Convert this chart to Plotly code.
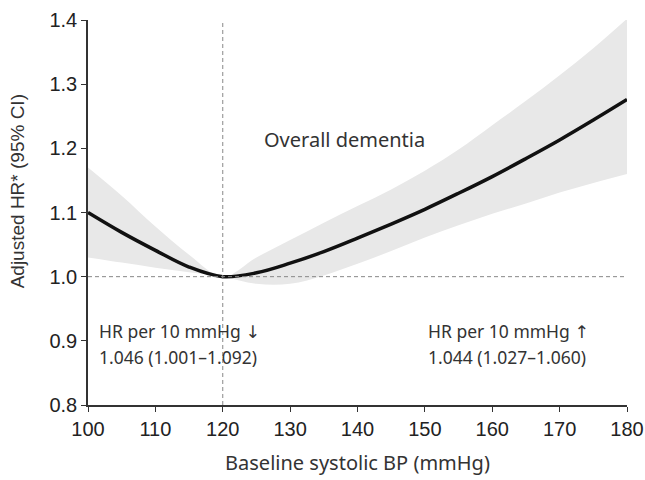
import plotly.graph_objects as go

# Data
bp = [100, 105, 110, 115, 120, 125, 130, 135, 140, 145, 150, 155, 160, 165, 170, 175, 180]
hr = [1.100, 1.069, 1.041, 1.015, 1.000, 1.006, 1.021, 1.039, 1.060, 1.082, 1.105, 1.130, 1.156, 1.184, 1.213, 1.244, 1.276]
ci_upper = [1.170, 1.126, 1.078, 1.034, 1.000, 1.030, 1.057, 1.084, 1.110, 1.136, 1.165, 1.198, 1.236, 1.274, 1.314, 1.356, 1.402]
ci_lower = [1.030, 1.022, 1.014, 1.007, 1.000, 0.989, 0.989, 1.002, 1.020, 1.040, 1.061, 1.080, 1.098, 1.114, 1.131, 1.146, 1.160]

x_ticks = [100, 110, 120, 130, 140, 150, 160, 170, 180]
y_ticks = [0.8, 0.9, 1.0, 1.1, 1.2, 1.3, 1.4]
y_tick_labels = ["0.8", "0.9", "1.0", "1.1", "1.2", "1.3", "1.4"]

REF_BP = 120
REF_HR = 1.0

TEXT_FONT = "Noto Sans"
TICK_FONT = "Liberation Sans"
ARROW_SPAN = '<span style="font-family:DejaVu Sans">{}</span>'

fig = go.Figure()

fig.add_trace(go.Scatter(x=bp, y=ci_upper, mode="lines", line=dict(width=0, shape="spline"),
                         hoverinfo="skip", showlegend=False))
fig.add_trace(go.Scatter(x=bp, y=ci_lower, mode="lines", line=dict(width=0, shape="spline"),
                         fill="tonexty", fillcolor="#e8e8e8", hoverinfo="skip", showlegend=False))
fig.add_trace(go.Scatter(x=bp, y=hr, mode="lines", line=dict(color="#111111", width=3.5, shape="spline"),
                         showlegend=False))

fig.add_shape(type="line", xref="x", yref="y", x0=bp[0], x1=bp[-1], y0=REF_HR, y1=REF_HR,
              line=dict(color="#888888", width=1, dash="4px,3px"))
fig.add_shape(type="line", xref="x", yref="y", x0=REF_BP, x1=REF_BP, y0=y_ticks[0], y1=y_ticks[-1],
              line=dict(color="#888888", width=1, dash="4px,3px"))

ann_font = dict(family=TEXT_FONT, size=17.5, color="#333333")
fig.add_annotation(x=125.8, y=1.214, text="Overall dementia", showarrow=False, xanchor="left",
                   yanchor="middle", font=dict(family=TEXT_FONT, size=20, color="#333333"))
fig.add_annotation(x=101.3, y=0.916, text="HR per 10 mmHg " + ARROW_SPAN.format("↓"), showarrow=False,
                   xanchor="left", yanchor="middle", font=ann_font)
fig.add_annotation(x=101.3, y=0.875, text="1.046 (1.001–1.092)", showarrow=False, xanchor="left",
                   yanchor="middle", font=ann_font)
fig.add_annotation(x=150.1, y=0.916, text="HR per 10 mmHg " + ARROW_SPAN.format("↑"), showarrow=False,
                   xanchor="left", yanchor="middle", font=ann_font)
fig.add_annotation(x=150.1, y=0.875, text="1.044 (1.027–1.060)", showarrow=False, xanchor="left",
                   yanchor="middle", font=ann_font)

# y-axis title (placed slightly above the plot centre, as in the reference)
fig.add_annotation(xref="paper", yref="paper", x=-0.1317, y=0.555, text="Adjusted HR* (95% CI)",
                   textangle=-90, showarrow=False, xanchor="center", yanchor="middle",
                   font=dict(family=TICK_FONT, size=19, color="#333333"))

fig.update_layout(
    width=645, height=480,
    margin=dict(l=88, r=18, t=20, b=75),
    paper_bgcolor="white", plot_bgcolor="white",
    xaxis=dict(range=[100, 180], tickvals=x_ticks, ticks="outside", ticklen=5, tickcolor="#333333",
               showline=True, linecolor="#333333", linewidth=1.5, showgrid=False, zeroline=False,
               automargin=False,
               tickfont=dict(family=TICK_FONT, size=20, color="#222222"),
               title=dict(text="Baseline systolic BP (mmHg)", standoff=17,
                          font=dict(family=TEXT_FONT, size=20, color="#333333"))),
    yaxis=dict(range=[0.8, 1.4], tickvals=y_ticks, ticktext=y_tick_labels, ticks="outside", ticklen=5,
               tickcolor="#333333", showline=True, linecolor="#333333", linewidth=1.5, showgrid=False,
               zeroline=False, automargin=False,
               tickfont=dict(family=TICK_FONT, size=20, color="#222222")),
)

fig.write_html("out.html")
